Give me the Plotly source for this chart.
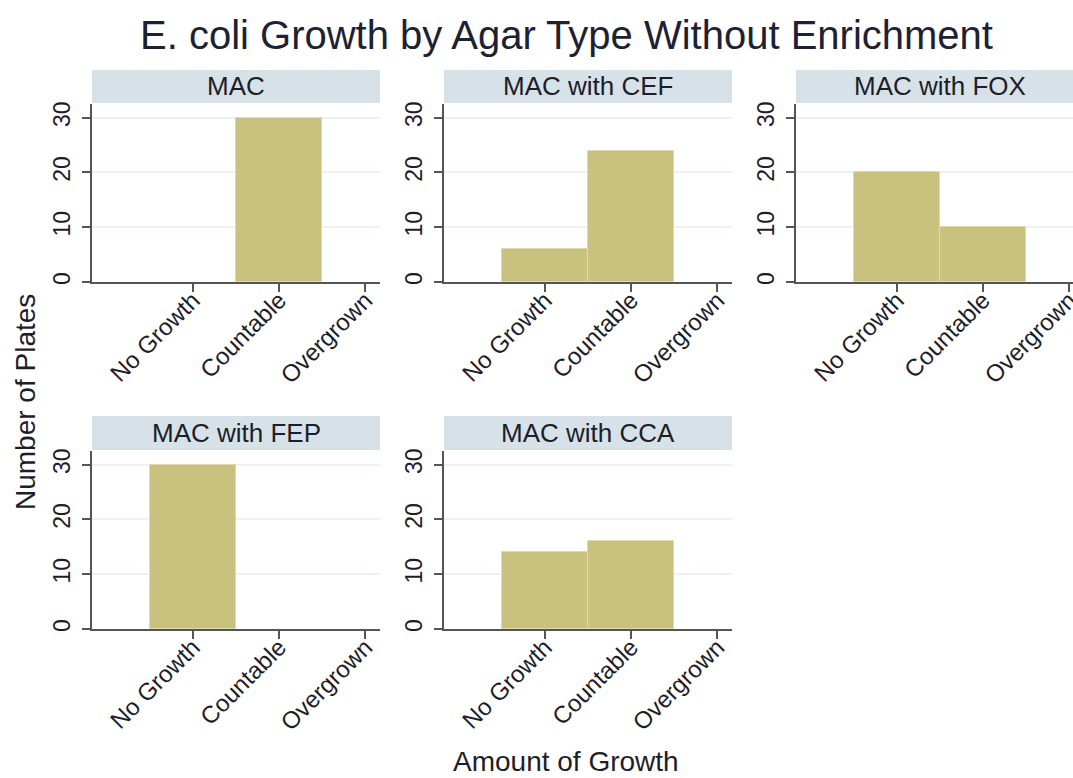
import plotly.graph_objects as go

# Plate counts per agar type, by amount of growth
categories = ["No Growth", "Countable", "Overgrown"]
agar_types = ["MAC", "MAC with CEF", "MAC with FOX", "MAC with FEP", "MAC with CCA"]
mac = [0, 30, 0]
mac_cef = [6, 24, 0]
mac_fox = [20, 10, 0]
mac_fep = [30, 0, 0]
mac_cca = [14, 16, 0]
counts = [mac, mac_cef, mac_fox, mac_fep, mac_cca]
y_ticks = [0, 10, 20, 30]

W, H = 1073, 778
BAR = "#C9C27F"
BAR_EDGE = "#DEDAB0"
STRIP = "#D6E2E8"
GRID = "#EAF2F3"
AXIS = "#555555"
TEXT = "#1e1e2a"
FONT = "Liberation Sans, Arial, sans-serif"


def px_x(p):
    return p / W


def px_y(p):
    return 1 - p / H


# panel geometry (pixels): columns and rows of plot areas
cols = [(92, 380), (444, 732), (796, 1073)]
rows = [(104, 282), (451, 629)]
strips = [(70, 103), (416, 450)]
xranges = [(-1.17, 2.17), (-1.17, 2.17), (-1.17, 2.043)]

fig = go.Figure()
layout = dict(
    width=W, height=H,
    margin=dict(l=0, r=0, t=0, b=0, autoexpand=False),
    paper_bgcolor="white", plot_bgcolor="white",
    showlegend=False,
    font=dict(family=FONT, color=TEXT),
    bargap=0,
)
shapes = []
annotations = []

for i, (name, vals) in enumerate(zip(agar_types, counts)):
    r, c = divmod(i, 3)
    k = i + 1
    xa = "x" if k == 1 else f"x{k}"
    ya = "y" if k == 1 else f"y{k}"
    # empty categories get no outline so nothing is drawn along the baseline
    edge_widths = [1 if v > 0 else 0 for v in vals]
    fig.add_trace(go.Bar(
        x=[0, 1, 2], y=vals, width=1,
        marker=dict(color=BAR, line=dict(color=BAR_EDGE, width=edge_widths)),
        xaxis=xa, yaxis=ya, hoverinfo="skip",
    ))
    x0, x1 = cols[c]
    y0, y1 = rows[r]
    layout["xaxis" if k == 1 else f"xaxis{k}"] = dict(
        domain=[px_x(x0), px_x(x1)], anchor=ya,
        range=list(xranges[c]), automargin=False,
        tickvals=[0, 1, 2], ticktext=categories, tickangle=-45,
        ticks="outside", ticklen=8, tickwidth=1.5, tickcolor=AXIS,
        showline=True, linecolor=AXIS, linewidth=1.5,
        showgrid=False, zeroline=False, ticklabeloverflow="allow",
        ticklabelstandoff=-15,
        tickfont=dict(size=24, color=TEXT), fixedrange=True,
    )
    layout["yaxis" if k == 1 else f"yaxis{k}"] = dict(
        domain=[px_y(y1), px_y(y0)], anchor=xa,
        range=[0, 32.5], automargin=False,
        tickvals=y_ticks, tickangle=-90,
        ticks="outside", ticklen=8, tickwidth=1.5, tickcolor=AXIS,
        showline=True, linecolor=AXIS, linewidth=1.5,
        showgrid=True, gridcolor=GRID, gridwidth=1.5, zeroline=False,
        tickfont=dict(size=23, color=TEXT), ticklabelstandoff=3,
        fixedrange=True,
    )
    s0, s1 = strips[r]
    shapes.append(dict(
        type="rect", xref="paper", yref="paper",
        x0=px_x(x0), x1=px_x(x1), y0=px_y(s1), y1=px_y(s0),
        fillcolor=STRIP, line=dict(width=0), layer="below",
    ))
    annotations.append(dict(
        text=name, xref="paper", yref="paper",
        x=px_x((x0 + (x0 + 288)) / 2), y=px_y((s0 + s1) / 2),
        xanchor="center", yanchor="middle", showarrow=False,
        font=dict(size=26, color=TEXT),
    ))

annotations.append(dict(
    text="E. coli Growth by Agar Type Without Enrichment",
    xref="paper", yref="paper", x=px_x(566), y=px_y(35),
    xanchor="center", yanchor="middle", showarrow=False,
    font=dict(size=40, color="#1c2233"),
))
annotations.append(dict(
    text="Number of Plates", xref="paper", yref="paper",
    x=px_x(25), y=px_y(402), textangle=-90,
    xanchor="center", yanchor="middle", showarrow=False,
    font=dict(size=28, color=TEXT),
))
annotations.append(dict(
    text="Amount of Growth", xref="paper", yref="paper",
    x=px_x(566), y=px_y(761),
    xanchor="center", yanchor="middle", showarrow=False,
    font=dict(size=28, color=TEXT),
))

layout["shapes"] = shapes
layout["annotations"] = annotations
fig.update_layout(**layout)
fig.write_html("out.html")
